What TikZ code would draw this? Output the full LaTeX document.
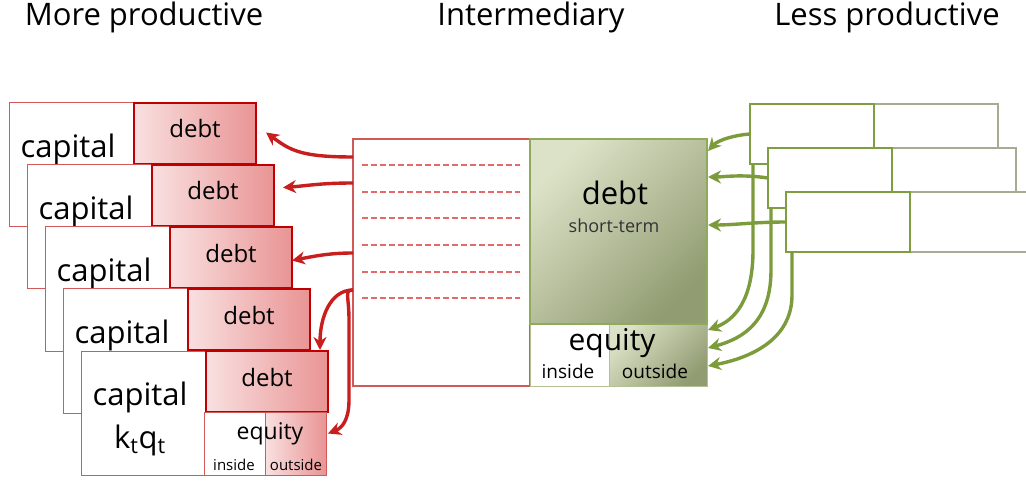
\documentclass[tikz,border=0pt]{standalone}
\usepackage{fontspec}
\setmainfont{Open Sans}
\usetikzlibrary{arrows.meta,calc}
\definecolor{arrred}{HTML}{C81E1E}
\definecolor{capred}{HTML}{D05A5A}
\definecolor{debtred}{HTML}{C00000}
\definecolor{pinkL}{HTML}{F9E0E0}
\definecolor{pinkR}{HTML}{E99494}
\definecolor{dashred}{HTML}{E46A6A}
\definecolor{arrgreen}{HTML}{7C9C3C}
\definecolor{cardgreen}{HTML}{7E9E40}
\definecolor{cardgray}{HTML}{A6AC94}
\definecolor{greenL}{HTML}{DCE2C7}
\definecolor{greenM}{HTML}{CDD4B2}
\definecolor{greenD}{HTML}{919C72}
\definecolor{greenbd}{HTML}{8FAA5A}
\definecolor{greenbd2}{HTML}{B4C094}
\begin{document}
\begin{tikzpicture}[x=1pt,y=-1pt,
  box/.style={rectangle,inner sep=0pt,outer sep=0pt,anchor=north west},
  capbox/.style={box,draw=capred,line width=1pt,fill=white,minimum width=125pt,minimum height=124pt},
  debtbox/.style={box,draw=debtred,line width=1.8pt,left color=pinkL,right color=pinkR,minimum width=122pt,minimum height=61pt},
  title/.style={font=\fontsize{31}{36}\selectfont,inner sep=0pt},
  captxt/.style={font=\fontsize{31}{36}\selectfont,inner sep=0pt},
  debttxt/.style={font=\fontsize{24}{28}\selectfont,inner sep=0pt},
  redarr/.style={draw=arrred,line width=3.4pt,-{Stealth[length=13pt,width=13pt]}},
  greenarr/.style={draw=arrgreen,line width=3.4pt,-{Stealth[length=13pt,width=13pt]}},
  gleft/.style={box,draw=cardgreen,line width=1.4pt,fill=white,minimum width=124pt,minimum height=60pt},
  gright/.style={box,draw=cardgray,line width=1.4pt,fill=white,minimum width=124pt,minimum height=60pt},
]
\useasboundingbox (0,0) rectangle (1026,481);
\fill[white] (0,0) rectangle (1026,481);

% titles
\node[title] (t1) at (144,17) {More productive};
\node[title] (t2) at (531,17) {Intermediary};
\node[title] (t3) at (887,17) {Less productive};

% left firms
\foreach \k [evaluate=\k as \xx using {9+18*(\k-1)}, evaluate=\k as \yy using {103+62*(\k-1)}] in {1,...,5}{
  \node[capbox] (cap\k) at (\xx,\yy) {};
  \node[debtbox] (debt\k) at (\xx+125,\yy) {};
  \node[captxt] (capl\k) at (\xx+59,\yy+46) {capital};
  \node[debttxt] (debtl\k) at (\xx+186,\yy+26) {debt};
}
\node[captxt] (kq) at (140,440) {k\textsubscript{t}q\textsubscript{t}};
\node[box,draw=capred,line width=1pt,fill=white,minimum width=61pt,minimum height=63pt] (eqin5) at (204,412) {};
\node[box,draw=capred,line width=1pt,left color=pinkL,right color=pinkR,minimum width=61pt,minimum height=63pt] (eqout5) at (265,412) {};
\node[font=\fontsize{23}{27}\selectfont,inner sep=0pt] (eql5) at (270,434) {equity};
\node[font=\fontsize{15}{18}\selectfont,inner sep=0pt] (inl5) at (234,465) {inside};
\node[font=\fontsize{15}{18}\selectfont,inner sep=0pt] (outl5) at (296,465) {outside};

% intermediary
\node[box,draw=capred,line width=1.2pt,fill=white,minimum width=177pt,minimum height=247pt] (int) at (353,139) {};
\foreach \yy in {165,192,218,245,272,298}{
  \draw[dashred,line width=1.1pt,dash pattern=on 6pt off 3pt] (362,\yy) -- (520,\yy);
}
\node[box,draw=greenbd,line width=1.2pt,shading=axis,top color=greenL,middle color=greenM,bottom color=greenD,shading angle=45,minimum width=177pt,minimum height=185pt] (gdebt) at (530,139) {};
\node[box,draw=greenbd2,line width=1pt,fill=white,minimum width=79pt,minimum height=62pt] (geqin) at (530,324) {};
\node[box,draw=greenbd2,line width=1pt,shading=axis,top color=greenL,middle color=greenM,bottom color=greenD,shading angle=45,minimum width=98pt,minimum height=62pt] (geqout) at (609,324) {};
\node[box,draw=greenbd,line width=1.2pt,minimum width=177pt,minimum height=185pt] (gdebtb) at (530,139) {};
\node[font=\fontsize{31}{36}\selectfont,inner sep=0pt] (gdl) at (615,193) {debt};
\node[font=\fontsize{18}{21}\selectfont,inner sep=0pt,text=black!80] (gst) at (614,226) {short-term};
\node[font=\fontsize{30}{35}\selectfont,inner sep=0pt] (geql) at (612,343) {equity};
\node[font=\fontsize{19}{22}\selectfont,inner sep=0pt] (ginl) at (568,371) {inside};
\node[font=\fontsize{19}{22}\selectfont,inner sep=0pt] (goutl) at (655,371) {outside};

% right firms
\foreach \k [evaluate=\k as \xx using {750+18*(\k-1)}, evaluate=\k as \yy using {104+44*(\k-1)}] in {1,2,3}{
  \node[gright] (gr\k) at (\xx+124,\yy) {};
  \node[gleft] (gl\k) at (\xx,\yy) {};
}

% red arrows
\draw[redarr] ($(int.north west)+(0,18)$) .. controls (300,157) and (290,150) .. ($(debt1.east)+(10,-1)$);
\draw[redarr] ($(int.north west)+(0,44)$) .. controls (320,183) and (305,186) .. ($(debt2.east)+(9,-8)$);
\draw[redarr] ($(int.north west)+(0,114)$) .. controls (330,253) and (315,256) .. ($(debt3.east)+(0,3)$);
\draw[redarr] ($(int.north west)+(0,151)$) .. controls (330,290) and (320,318) .. ($(debt5.north east)+(-8,-1)$);
\draw[redarr] ($(int.north west)+(0,151)$) .. controls (344,290) and (349,296) .. (349,320) -- (349,400) .. controls (349,420) and (342,428) .. ($(eqout5.east)+(2,-10)$);

% green arrows
\draw[greenarr] (gl1.west) .. controls (735,135) and (718,140) .. ($(gdebt.north east)+(1,12)$);
\draw[greenarr] (gl2.west) .. controls (740,174) and (725,177) .. ($(gdebt.north east)+(1,38)$);
\draw[greenarr] (gl3.west) .. controls (755,222) and (735,225) .. ($(gdebt.north east)+(1,86)$);
\draw[greenarr] ($(gl1.south west)+(3,0)$) -- (753,250) .. controls (753,300) and (735,320) .. ($(gdebt.north east)+(1,191)$);
\draw[greenarr] ($(gl2.south west)+(3,0)$) -- (771,270) .. controls (771,320) and (745,338) .. ($(gdebt.north east)+(1,209)$);
\draw[greenarr] ($(gl3.south west)+(6,0)$) -- (792,295) .. controls (792,340) and (750,358) .. ($(gdebt.north east)+(1,227)$);
\end{tikzpicture}
\end{document}
